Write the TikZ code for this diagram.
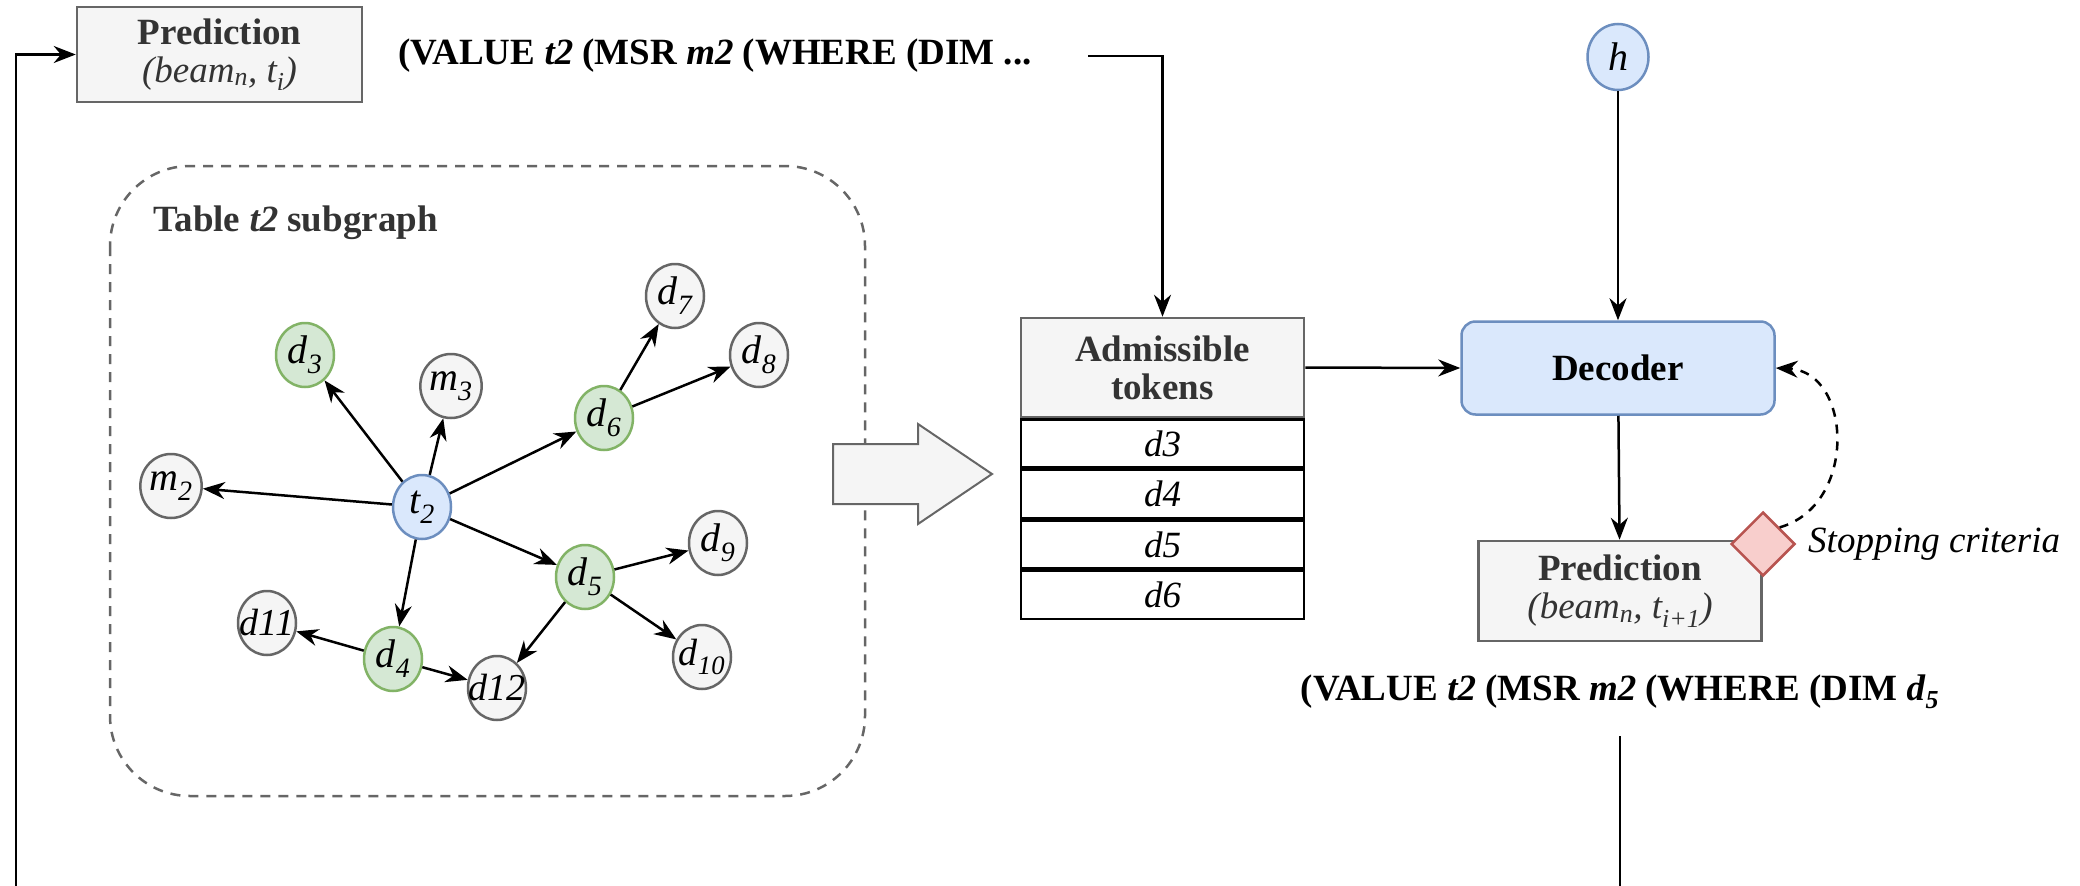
\documentclass[tikz,border=0pt]{standalone}
\usepackage{fontspec}
\setmainfont{Liberation Serif}
\usetikzlibrary{shapes.geometric,arrows.meta,positioning}
\definecolor{gfill}{HTML}{F5F5F5}
\definecolor{gdraw}{HTML}{666666}
\definecolor{grfill}{HTML}{D5E8D4}
\definecolor{grdraw}{HTML}{82B366}
\definecolor{bfill}{HTML}{DAE8FC}
\definecolor{bdraw}{HTML}{6C8EBF}
\definecolor{rfill}{HTML}{F8CECC}
\definecolor{rdraw}{HTML}{B85450}
\definecolor{dtext}{HTML}{333333}
\newcommand{\sbs}[2]{{\itshape #1\textsubscript{#2}}}
\tikzset{
  gnode/.style={ellipse, draw=gdraw, fill=gfill, line width=2.5pt, minimum width=58pt, minimum height=64pt, inner sep=0pt, font=\fontsize{40}{40}\selectfont},
  grnode/.style={gnode, draw=grdraw, fill=grfill},
  bnode/.style={gnode, draw=bdraw, fill=bfill},
  widelabel/.style={label={[inner sep=0pt, font=\fontsize{38}{38}\selectfont\itshape]center:#1}},
  con/.style={line width=2.5pt, -{Stealth[length=22pt,width=17pt]}},
  plainline/.style={line width=2.5pt},
  predbox/.style={rectangle, draw=gdraw, fill=gfill, line width=2.5pt, align=center, text=dtext, inner sep=0pt, font=\fontsize{37}{38}\selectfont},
  rowbox/.style={rectangle, draw=black, fill=white, line width=2.5pt, minimum width=283pt, minimum height=48pt, inner sep=0pt, font=\fontsize{37}{37}\selectfont\itshape},
  bigtext/.style={font=\fontsize{37}{40}\selectfont\bfseries, inner sep=0pt}
}
\begin{document}
\begin{tikzpicture}[x=1pt,y=-1pt]
\useasboundingbox (0,0) rectangle (2080,886);
% dashed subgraph frame
\draw[gdraw, line width=2.5pt, dash pattern=on 10pt off 8pt, rounded corners=80pt] (110,166) rectangle (865,796);
\node[bigtext, text=dtext, anchor=west] (title) at (153,223) {Table \textit{t2} subgraph};
% graph nodes
\node[gnode] (d7) at (675,296) {\sbs{d}{7}};
\node[grnode] (d3) at (305,355) {\sbs{d}{3}};
\node[gnode] (m3) at (451,386) {\sbs{m}{3}};
\node[gnode] (d8) at (759,355) {\sbs{d}{8}};
\node[grnode] (d6) at (604,418) {\sbs{d}{6}};
\node[gnode] (m2) at (171,486) {\sbs{m}{2}};
\node[bnode] (t2) at (422,507) {\sbs{t}{2}};
\node[gnode] (d9) at (718,543) {\sbs{d}{9}};
\node[grnode] (d5) at (585,577) {\sbs{d}{5}};
\node[gnode, widelabel={d11}] (d11) at (267,623) {};
\node[grnode] (d4) at (393,659) {\sbs{d}{4}};
\node[gnode, widelabel={d\textsubscript{10}}] (d10) at (702,657) {};
\node[gnode, widelabel={d12}] (d12) at (497,688) {};
\foreach \a/\b in {t2/m2, t2/d3, t2/m3, t2/d6, t2/d5, t2/d4, d6/d7, d6/d8, d5/d9, d5/d10, d5/d12, d4/d11, d4/d12}
  \draw[con] (\a) -- (\b);
% hollow arrow
\draw[gdraw, fill=gfill, line width=2pt] (833,444) -- (918,444) -- (918,424) -- (992,474) -- (918,524) -- (918,504) -- (833,504) -- cycle;
% top prediction
\node[predbox, minimum width=285pt, minimum height=95pt] (pred1) at (219.5,54.5) {\textbf{Prediction}\\ \textit{(beam\textsubscript{n}, t\textsubscript{i})}};
\node[bigtext, anchor=west] (seq1) at (398,56) {(VALUE \textit{t2} (MSR \textit{m2} (WHERE (DIM ...};
\coordinate (s1) at (1088,56);
% admissible tokens
\node[predbox, minimum width=283pt, minimum height=99pt] (adm) at (1162.5,367.5) {\textbf{Admissible}\\ \textbf{tokens}};
\node[rowbox, anchor=north] (r3) at (adm.south) {d3};
\node[rowbox, anchor=north] (r4) at (r3.south) {d4};
\node[rowbox, anchor=north] (r5) at (r4.south) {d5};
\node[rowbox, anchor=north] (r6) at (r5.south) {d6};
\draw[con] (s1) -| (adm.north);
% decoder part
\node[bnode, minimum width=61pt, minimum height=66pt] (h) at (1618,57) {\textit{h}};
\node[rectangle, rounded corners=14pt, draw=bdraw, fill=bfill, line width=2.5pt, minimum width=313pt, minimum height=93pt, font=\fontsize{37}{40}\selectfont\bfseries] (dec) at (1618,368) {Decoder};
\node[predbox, minimum width=283pt, minimum height=100pt] (pred2) at (1620,591) {\textbf{Prediction}\\ \textit{(beam\textsubscript{n}, t\textsubscript{i+1})}};
\node[diamond, draw=rdraw, fill=rfill, line width=2.5pt, minimum width=64pt, minimum height=64pt, inner sep=0pt] (stop) at (1763,544) {};
\node[anchor=west, inner sep=0pt, font=\fontsize{37}{40}\selectfont\itshape] (stoptext) at (1808,544) {Stopping criteria};
\node[bigtext] (seq2) at (1620,692) {(VALUE \textit{t2} (MSR \textit{m2} (WHERE (DIM \textit{d}\textsubscript{\textit{5}}};
\draw[con] (h) -- (dec);
\draw[con] (adm.east) -- (dec.west);
\draw[con] (dec) -- (pred2);
\draw[line width=2.5pt, dash pattern=on 9pt off 8pt, -{Stealth[length=22pt,width=17pt]}] (stop.north east) .. controls (1858,505) and (1852,372) .. (dec.east);
% feedback loop lines
\coordinate (lb) at (1620,736);
\coordinate (lbot) at (1620,886);
\coordinate (lbl) at (16,886);
\draw[plainline] (lb) -- (lbot);
\draw[con] (lbl) |- (pred1.west);
\end{tikzpicture}
\end{document}
